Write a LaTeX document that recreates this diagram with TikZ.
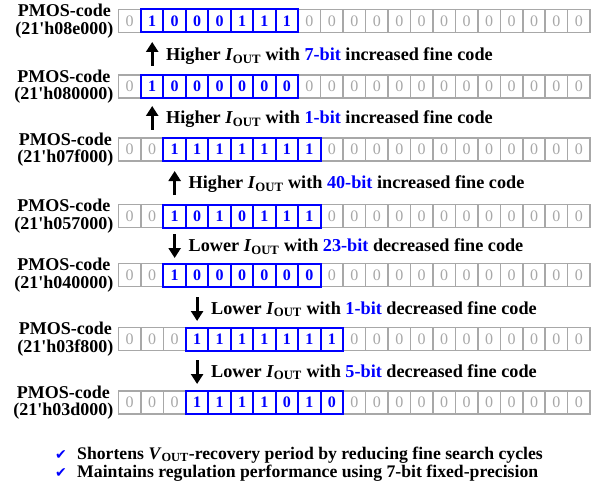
\documentclass[tikz,border=0pt]{standalone}
\usepackage{fontspec}
\setmainfont{Liberation Serif}
\newfontfamily\symfont{DejaVu Sans}
\usetikzlibrary{arrows.meta}
\definecolor{cellgray}{RGB}{168,168,168}
\definecolor{codeblue}{RGB}{0,0,255}
\tikzset{
  graycell/.style={draw=cellgray, line width=1.5pt, minimum width=22.46pt, minimum height=23pt, inner sep=0pt,
    text=cellgray, font=\fontsize{16}{16}\selectfont},
  bluecell/.style={draw=codeblue, line width=2pt, minimum width=22.46pt, minimum height=23pt, inner sep=0pt,
    text=codeblue, font=\fontsize{16}{16}\selectfont\bfseries},
  rowlab/.style={align=center, inner sep=0pt, font=\fontsize{18}{17.5}\selectfont\bfseries},
  arrlab/.style={anchor=base west, inner sep=0pt, font=\fontsize{18.2}{16}\selectfont\bfseries},
  notelab/.style={anchor=base west, inner sep=0pt, font=\fontsize{17.7}{16}\selectfont\bfseries},
  bigarrow/.style={line width=2.8pt, -{Triangle[width=12pt,length=10pt]}},
  checkmark/.style={anchor=base west, inner sep=0pt, text=codeblue, font=\symfont\fontsize{14}{14}\selectfont},
}
\newcommand{\Iout}{\textit{I}\textsubscript{OUT}}
\newcommand{\Vout}{\textit{V}\textsubscript{OUT}}
\newcommand{\hl}[1]{\textcolor{codeblue}{#1}}
\begin{document}
\begin{tikzpicture}[x=1pt,y=-1pt]
\fill[white] (0,0) rectangle (606,487);
\useasboundingbox (0,0) rectangle (606,487);

\foreach \r/\yy/\s/\bits/\hex in {
  1/21/1/{1,0,0,0,1,1,1}/08e000,
  2/86.5/1/{1,0,0,0,0,0,0}/080000,
  3/149.5/2/{1,1,1,1,1,1,1}/07f000,
  4/216/2/{1,0,1,0,1,1,1}/057000,
  5/275/2/{1,0,0,0,0,0,0}/040000,
  6/339/3/{1,1,1,1,1,1,1}/03f800,
  7/402.5/3/{1,1,1,1,0,1,0}/03d000}{
  \node[rowlab, anchor=east] (lab\r) at (113.5,\yy) {PMOS-code\\(21\textquotesingle h\hex)};
  \foreach \c in {0,...,20}{
    \pgfmathtruncatemacro\inblue{(\c>=\s)*(\c<=\s+6)}
    \ifnum\inblue=0
      \node[graycell] (r\r-\c) at ({118.5+22.46*(\c+0.5)},\yy) {0};
    \fi
  }
  \foreach \b [count=\i from 0] in \bits {
    \pgfmathtruncatemacro\cc{\s+\i}
    \node[bluecell] (r\r-\cc) at ({118.5+22.46*(\cc+0.5)},\yy) {\b};
  }
}

% arrows between rows
\coordinate (a1s) at (152.2,66); \coordinate (a1e) at (152.2,42);
\coordinate (a2s) at (152.2,130); \coordinate (a2e) at (152.2,106);
\coordinate (a3s) at (174.65,195); \coordinate (a3e) at (174.65,171);
\coordinate (a4s) at (174.65,234); \coordinate (a4e) at (174.65,258);
\coordinate (a5s) at (197.1,297); \coordinate (a5e) at (197.1,321);
\coordinate (a6s) at (197.1,360); \coordinate (a6e) at (197.1,384);
\foreach \k in {1,...,6}{\draw[bigarrow] (a\k s) -- (a\k e);}

\node[arrlab] (t1) at (166,61) {Higher \Iout{} with \hl{7-bit} increased fine code};
\node[arrlab] (t2) at (166,124) {Higher \Iout{} with \hl{1-bit} increased fine code};
\node[arrlab] (t3) at (188.5,188.5) {Higher \Iout{} with \hl{40-bit} increased fine code};
\node[arrlab] (t4) at (188.5,251.5) {Lower \Iout{} with \hl{23-bit} decreased fine code};
\node[arrlab] (t5) at (211,314) {Lower \Iout{} with \hl{1-bit} decreased fine code};
\node[arrlab] (t6) at (211,377) {Lower \Iout{} with \hl{5-bit} decreased fine code};

% bottom notes
\node[checkmark] (c1) at (55,459) {✔};
\node[notelab] (n1) at (77,459) {Shortens \Vout-recovery period by reducing fine search cycles};
\node[checkmark] (c2) at (55,477) {✔};
\node[notelab] (n2) at (77,477) {Maintains regulation performance using 7-bit fixed-precision};
\end{tikzpicture}
\end{document}
